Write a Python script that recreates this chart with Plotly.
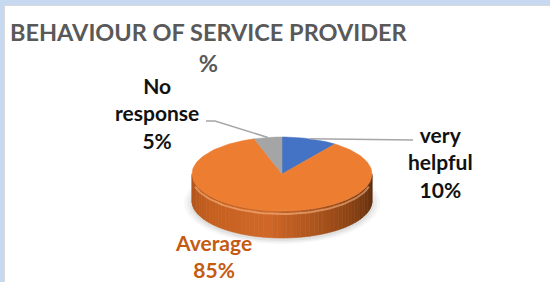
import numpy as np
import plotly.graph_objects as go

# ---- data ----
labels = ["very helpful", "Average", "No response"]
values = [10, 85, 5]
colors = ["#4472C4", "#ED7D31", "#A5A5A5"]
label_colors = ["#111111", "#C55A11", "#111111"]
title_text = "BEHAVIOUR OF SERVICE PROVIDER<br>%"

# ---- geometry (pixel-like axis space, y downward) ----
W, H = 550, 282
cx, cy, rx, ry, depth = 282, 174, 90, 37, 27

def pt(a_deg, dy=0.0):
    a = np.radians(a_deg)
    return cx + rx * np.sin(a), cy - ry * np.cos(a) + dy

fig = go.Figure()

# soft shadow
for k, op in [(8, 0.03), (5, 0.04), (2, 0.05)]:
    t = np.linspace(0, 360, 121)
    xs = cx + (rx + k) * np.sin(np.radians(t))
    ys = cy + depth + 2 - (ry + k * 0.5) * np.cos(np.radians(t))
    fig.add_trace(go.Scatter(x=xs, y=ys, mode="lines", fill="toself",
                             fillcolor=f"rgba(0,0,0,{op})", line=dict(width=0),
                             hoverinfo="skip", showlegend=False))

# cumulative angles (clockwise from 12 o'clock)
total = sum(values)
bounds = np.concatenate([[0], np.cumsum(values)]) / total * 360.0

# side wall (front half, 90..270 deg) with shading gradient
def shade(frac):
    # frac 0 at right (90deg) -> 1 at left (270deg)
    stops = [(0.0, (88, 42, 12)), (0.25, (145, 70, 22)), (0.55, (208, 104, 40)),
             (0.8, (196, 96, 32)), (1.0, (176, 84, 28))]
    for (f0, c0), (f1, c1) in zip(stops[:-1], stops[1:]):
        if f0 <= frac <= f1:
            u = (frac - f0) / (f1 - f0)
            c = [int(c0[i] + (c1[i] - c0[i]) * u) for i in range(3)]
            return f"rgb({c[0]},{c[1]},{c[2]})"
    return "rgb(176,84,28)"

n = 60
edges = np.linspace(90, 270, n + 1)
for i in range(n):
    a0, a1 = edges[i], edges[i + 1]
    aa = np.linspace(a0, a1, 4)
    top = [pt(a) for a in aa]
    bot = [pt(a, depth) for a in aa[::-1]]
    xs = [p[0] for p in top + bot]
    ys = [p[1] for p in top + bot]
    col = shade((0.5 * (a0 + a1) - 90) / 180)
    fig.add_trace(go.Scatter(x=xs + [xs[0]], y=ys + [ys[0]], mode="lines", fill="toself",
                             fillcolor=col, line=dict(width=0.6, color=col),
                             hoverinfo="skip", showlegend=False))

# rim highlight
t = np.linspace(105, 255, 60)
hx = [pt(a, 3)[0] for a in t]
hy = [pt(a, 3)[1] for a in t]
fig.add_trace(go.Scatter(x=hx, y=hy, mode="lines", line=dict(color="rgba(255,190,140,0.55)", width=2),
                         hoverinfo="skip", showlegend=False))

# top face slices
for i, (lab, v, c) in enumerate(zip(labels, values, colors)):
    a0, a1 = bounds[i], bounds[i + 1]
    aa = np.linspace(a0, a1, max(4, int((a1 - a0) / 2)))
    pts = [(cx, cy)] + [pt(a) for a in aa] + [(cx, cy)]
    fig.add_trace(go.Scatter(x=[p[0] for p in pts], y=[p[1] for p in pts], mode="lines",
                             fill="toself", fillcolor=c, line=dict(width=0.5, color=c),
                             name=lab, hoverinfo="name", showlegend=False))

# labels and leader lines
label_pos = {"very helpful": (440, 162), "Average": (213, 256), "No response": (157, 113)}
line_ends = {"very helpful": [(413, 140)], "No response": [(215, 121), (206, 121)]}
for i, (lab, v) in enumerate(zip(labels, values)):
    mid = 0.5 * (bounds[i] + bounds[i + 1])
    if lab in line_ends:
        sx, sy = pt(mid)
        pts = [(sx, sy)] + line_ends[lab]
        fig.add_trace(go.Scatter(x=[p[0] for p in pts], y=[p[1] for p in pts], mode="lines",
                                 line=dict(color="#A6A6A6", width=1.5),
                                 hoverinfo="skip", showlegend=False))
    lx, ly = label_pos[lab]
    txt = lab.replace(" ", "<br>") + f"<br>{round(v / total * 100)}%"
    fig.add_annotation(x=lx, y=ly, xref="x", yref="y", text=txt, showarrow=False,
                       font=dict(family="Lato", size=21, color=label_colors[i], weight="bold"),
                       align="center", xanchor="center", yanchor="middle")

# title
fig.add_annotation(x=209, y=47, xref="x", yref="y", text=title_text, showarrow=False,
                   font=dict(family="Lato", size=23.5, color="#595959", weight="bold"),
                   align="center", xanchor="center", yanchor="middle")

# frame bands
fig.add_shape(type="rect", xref="x", yref="y", x0=0, x1=W, y0=0, y1=5,
              fillcolor="#C6D9F1", line_width=0, layer="below")
fig.add_shape(type="rect", xref="x", yref="y", x0=0, x1=4, y0=0, y1=H,
              fillcolor="#C6D9F1", line_width=0, layer="below")
fig.add_shape(type="line", xref="x", yref="y", x0=4, x1=W, y0=5.5, y1=5.5,
              line=dict(color="#D9D9D9", width=1), layer="below")
fig.add_shape(type="line", xref="x", yref="y", x0=4.5, x1=4.5, y0=5, y1=H,
              line=dict(color="#D9D9D9", width=1), layer="below")

fig.update_layout(
    width=W, height=H, margin=dict(l=0, r=0, t=0, b=0),
    paper_bgcolor="white", plot_bgcolor="white",
    xaxis=dict(range=[0, W], visible=False, fixedrange=True),
    yaxis=dict(range=[H, 0], visible=False, fixedrange=True),
    showlegend=False,
)

fig.write_html("out.html", config={"displayModeBar": False},
               post_script="document.body.style.margin='0';document.body.style.overflow='hidden';")
